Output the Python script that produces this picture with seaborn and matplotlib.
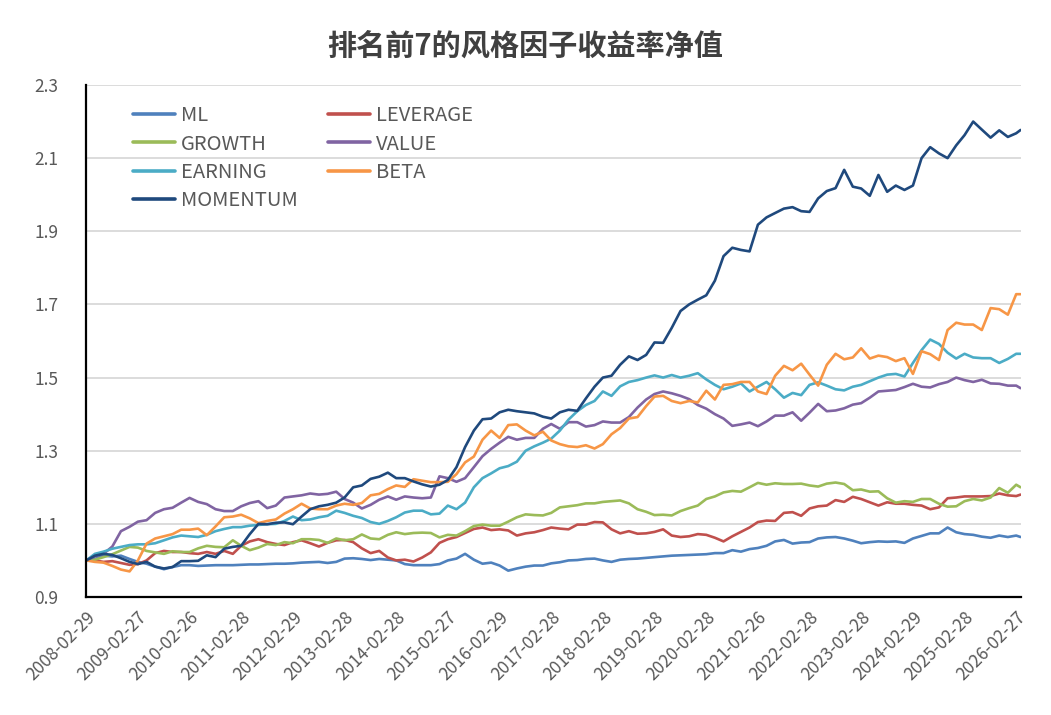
import pandas as pd
import numpy as np
import matplotlib
matplotlib.use("Agg")
import matplotlib.pyplot as plt
import seaborn as sns

# ---------------- data (net value, every 2 months from 2008-02 to 2026-02, plus 2026-03) ----------------
dates = list(pd.date_range("2008-02-29", "2026-02-28", freq="2ME")) + [pd.Timestamp("2026-03-31")]

ML = [1.000, 1.004, 1.013, 1.011, 1.013, 1.004, 0.996, 0.991, 0.983, 0.976,
      0.982, 0.987, 0.987, 0.985, 0.986, 0.987, 0.987, 0.987, 0.988, 0.989,
      0.989, 0.990, 0.991, 0.991, 0.992, 0.994, 0.995, 0.996, 0.993, 0.996,
      1.005, 1.006, 1.004, 1.001, 1.004, 1.002, 1.000, 0.990, 0.987, 0.987,
      0.987, 0.990, 1.000, 1.005, 1.018, 1.002, 0.991, 0.994, 0.986, 0.972,
      0.978, 0.983, 0.986, 0.986, 0.992, 0.995, 1.000, 1.001, 1.004, 1.005,
      1.000, 0.996, 1.002, 1.004, 1.005, 1.007, 1.009, 1.011, 1.013, 1.014,
      1.015, 1.016, 1.017, 1.020, 1.020, 1.028, 1.024, 1.031, 1.034, 1.040,
      1.052, 1.056, 1.046, 1.049, 1.050, 1.060, 1.063, 1.064, 1.060, 1.054,
      1.047, 1.050, 1.052, 1.051, 1.052, 1.048, 1.060, 1.067, 1.074, 1.074,
      1.090, 1.077, 1.072, 1.070, 1.065, 1.062, 1.068, 1.064, 1.068, 1.064]

LEVERAGE = [1.000, 1.000, 0.996, 0.998, 0.993, 0.988, 0.990, 1.000, 1.020, 1.026,
            1.023, 1.023, 1.020, 1.018, 1.023, 1.018, 1.026, 1.018, 1.040, 1.052,
            1.058, 1.050, 1.045, 1.042, 1.050, 1.055, 1.047, 1.038, 1.048, 1.055,
            1.056, 1.050, 1.033, 1.020, 1.026, 1.008, 1.000, 1.002, 0.997, 1.008,
            1.022, 1.048, 1.058, 1.064, 1.075, 1.086, 1.090, 1.083, 1.085, 1.082,
            1.068, 1.074, 1.077, 1.083, 1.090, 1.087, 1.085, 1.098, 1.098, 1.105,
            1.104, 1.085, 1.074, 1.080, 1.073, 1.074, 1.078, 1.085, 1.068, 1.064,
            1.066, 1.072, 1.070, 1.062, 1.052, 1.066, 1.078, 1.090, 1.105, 1.109,
            1.108, 1.130, 1.132, 1.122, 1.142, 1.148, 1.150, 1.165, 1.160, 1.174,
            1.168, 1.159, 1.150, 1.159, 1.155, 1.155, 1.152, 1.150, 1.140, 1.145,
            1.170, 1.172, 1.175, 1.175, 1.175, 1.176, 1.183, 1.178, 1.176, 1.180]

GROWTH = [1.000, 1.002, 1.009, 1.017, 1.027, 1.037, 1.035, 1.026, 1.022, 1.018,
          1.025, 1.023, 1.023, 1.033, 1.040, 1.037, 1.036, 1.055, 1.040, 1.028,
          1.035, 1.045, 1.042, 1.050, 1.047, 1.058, 1.058, 1.056, 1.048, 1.060,
          1.055, 1.058, 1.071, 1.060, 1.058, 1.070, 1.077, 1.072, 1.075, 1.076,
          1.075, 1.063, 1.070, 1.068, 1.080, 1.094, 1.098, 1.095, 1.095, 1.106,
          1.118, 1.126, 1.124, 1.123, 1.130, 1.145, 1.148, 1.151, 1.156, 1.156,
          1.160, 1.162, 1.164, 1.156, 1.140, 1.133, 1.124, 1.125, 1.123, 1.135,
          1.143, 1.150, 1.168, 1.175, 1.186, 1.190, 1.188, 1.200, 1.212, 1.207,
          1.211, 1.209, 1.209, 1.210, 1.205, 1.202, 1.210, 1.213, 1.209, 1.192,
          1.194, 1.188, 1.189, 1.170, 1.158, 1.162, 1.160, 1.168, 1.168, 1.155,
          1.147, 1.148, 1.162, 1.168, 1.164, 1.172, 1.198, 1.185, 1.207, 1.200]

VALUE = [1.000, 1.011, 1.018, 1.038, 1.080, 1.092, 1.106, 1.110, 1.130, 1.140,
         1.144, 1.158, 1.171, 1.160, 1.154, 1.140, 1.135, 1.135, 1.148, 1.157,
         1.162, 1.143, 1.150, 1.172, 1.175, 1.178, 1.183, 1.180, 1.182, 1.188,
         1.168, 1.158, 1.142, 1.152, 1.166, 1.175, 1.166, 1.175, 1.172, 1.170,
         1.172, 1.230, 1.225, 1.215, 1.225, 1.255, 1.285, 1.305, 1.322, 1.338,
         1.330, 1.335, 1.335, 1.360, 1.373, 1.360, 1.378, 1.378, 1.366, 1.370,
         1.380, 1.377, 1.377, 1.392, 1.418, 1.440, 1.455, 1.462, 1.457, 1.450,
         1.441, 1.425, 1.415, 1.400, 1.388, 1.368, 1.372, 1.377, 1.367, 1.380,
         1.396, 1.396, 1.405, 1.382, 1.404, 1.428, 1.408, 1.410, 1.416, 1.426,
         1.430, 1.445, 1.462, 1.464, 1.466, 1.474, 1.483, 1.475, 1.473, 1.482,
         1.488, 1.500, 1.493, 1.488, 1.494, 1.484, 1.483, 1.478, 1.478, 1.471]

EARNING = [1.000, 1.018, 1.024, 1.032, 1.037, 1.042, 1.044, 1.044, 1.047, 1.055,
           1.063, 1.068, 1.066, 1.064, 1.070, 1.080, 1.086, 1.091, 1.091, 1.095,
           1.097, 1.099, 1.100, 1.108, 1.120, 1.110, 1.112, 1.118, 1.122, 1.136,
           1.130, 1.122, 1.116, 1.105, 1.100, 1.108, 1.118, 1.131, 1.136, 1.136,
           1.126, 1.128, 1.150, 1.140, 1.158, 1.200, 1.225, 1.238, 1.252, 1.258,
           1.270, 1.300, 1.312, 1.322, 1.333, 1.355, 1.385, 1.408, 1.425, 1.436,
           1.462, 1.450, 1.476, 1.488, 1.493, 1.500, 1.506, 1.500, 1.507, 1.500,
           1.505, 1.512, 1.495, 1.480, 1.468, 1.475, 1.484, 1.462, 1.475, 1.488,
           1.468, 1.445, 1.458, 1.452, 1.480, 1.487, 1.478, 1.468, 1.465, 1.475,
           1.480, 1.490, 1.500, 1.508, 1.510, 1.503, 1.540, 1.575, 1.604, 1.592,
           1.568, 1.552, 1.565, 1.555, 1.553, 1.553, 1.540, 1.551, 1.565, 1.565]

BETA = [1.000, 0.996, 0.994, 0.985, 0.975, 0.970, 1.000, 1.046, 1.060, 1.066,
        1.072, 1.084, 1.084, 1.087, 1.069, 1.093, 1.118, 1.120, 1.125, 1.115,
        1.102, 1.108, 1.112, 1.128, 1.140, 1.155, 1.142, 1.140, 1.140, 1.150,
        1.155, 1.152, 1.157, 1.178, 1.182, 1.195, 1.205, 1.201, 1.222, 1.218,
        1.214, 1.214, 1.215, 1.236, 1.268, 1.284, 1.330, 1.355, 1.335, 1.370,
        1.372, 1.355, 1.342, 1.352, 1.328, 1.318, 1.312, 1.310, 1.315, 1.306,
        1.318, 1.345, 1.362, 1.388, 1.392, 1.422, 1.448, 1.450, 1.436, 1.430,
        1.436, 1.432, 1.464, 1.440, 1.480, 1.482, 1.488, 1.488, 1.462, 1.455,
        1.505, 1.532, 1.520, 1.538, 1.508, 1.478, 1.535, 1.565, 1.550, 1.555,
        1.580, 1.552, 1.560, 1.556, 1.545, 1.553, 1.510, 1.572, 1.564, 1.548,
        1.630, 1.650, 1.645, 1.645, 1.630, 1.690, 1.687, 1.672, 1.728, 1.728]

MOMENTUM = [1.000, 1.013, 1.018, 1.015, 1.006, 0.996, 0.990, 0.996, 0.983, 0.978,
            0.982, 0.998, 0.998, 0.999, 1.014, 1.009, 1.032, 1.037, 1.040, 1.072,
            1.100, 1.099, 1.103, 1.104, 1.099, 1.120, 1.140, 1.148, 1.152, 1.158,
            1.172, 1.200, 1.205, 1.223, 1.229, 1.240, 1.225, 1.225, 1.216, 1.208,
            1.202, 1.207, 1.220, 1.255, 1.310, 1.355, 1.386, 1.388, 1.405, 1.412,
            1.408, 1.405, 1.402, 1.393, 1.388, 1.405, 1.412, 1.409, 1.443, 1.475,
            1.500, 1.505, 1.535, 1.558, 1.548, 1.562, 1.596, 1.595, 1.636, 1.682,
            1.700, 1.713, 1.725, 1.765, 1.832, 1.855, 1.849, 1.845, 1.918, 1.938,
            1.950, 1.962, 1.966, 1.955, 1.953, 1.990, 2.010, 2.018, 2.068, 2.022,
            2.017, 1.997, 2.054, 2.008, 2.025, 2.013, 2.025, 2.100, 2.130, 2.113,
            2.100, 2.135, 2.163, 2.200, 2.178, 2.156, 2.176, 2.158, 2.168, 2.177]

factors = ["ML", "LEVERAGE", "GROWTH", "VALUE", "EARNING", "BETA", "MOMENTUM"]
colors = ["#4F81BD", "#C0504D", "#9BBB59", "#8064A2", "#4BACC6", "#F79646", "#1F497D"]

tick_labels = ["2008-02-29", "2009-02-27", "2010-02-26", "2011-02-28", "2012-02-29",
               "2013-02-28", "2014-02-28", "2015-02-27", "2016-02-29", "2017-02-28",
               "2018-02-28", "2019-02-28", "2020-02-28", "2021-02-26", "2022-02-28",
               "2023-02-28", "2024-02-29", "2025-02-28", "2026-02-27"]
y_ticks = [0.9, 1.1, 1.3, 1.5, 1.7, 1.9, 2.1, 2.3]

title = "排名前7的风格因子收益率净值"

# ---------------- build long table ----------------
series = {"ML": ML, "LEVERAGE": LEVERAGE, "GROWTH": GROWTH, "VALUE": VALUE,
          "EARNING": EARNING, "BETA": BETA, "MOMENTUM": MOMENTUM}
df = pd.concat([pd.DataFrame({"date": dates, "value": v, "factor": k}) for k, v in series.items()],
               ignore_index=True)

# ---------------- style ----------------
sns.set_style("white")
plt.rcParams["font.family"] = ["Noto Sans CJK SC", "DejaVu Sans"]
grey = "#595959"

fig = plt.figure(figsize=(10.51, 7.15), dpi=100)
ax = fig.add_axes([86 / 1051, 1 - 597 / 715, (1021 - 86) / 1051, (597 - 85) / 715])

sns.lineplot(data=df, x="date", y="value", hue="factor", hue_order=factors,
             palette=dict(zip(factors, colors)), linewidth=1.9, ax=ax, legend=False)

ax.set_ylim(0.9, 2.3)
ax.set_yticks(y_ticks)
ax.set_yticklabels([f"{t:.1f}" for t in y_ticks])
ax.set_xlim(pd.Timestamp("2008-02-27"), pd.Timestamp("2026-04-03"))
ax.set_xticks(pd.to_datetime(tick_labels))
ax.set_xticklabels(tick_labels, rotation=45, ha="right", va="top", rotation_mode="anchor")

ax.grid(axis="y", color="#D9D9D9", linewidth=1.3)
ax.grid(axis="x", visible=False)
ax.set_axisbelow(True)
for s in ["top", "right"]:
    ax.spines[s].set_visible(False)
for s in ["left", "bottom"]:
    ax.spines[s].set_color("black")
    ax.spines[s].set_linewidth(1.6)

ax.tick_params(axis="y", length=0, pad=20, labelsize=12.5, labelcolor=grey)
ax.tick_params(axis="x", direction="in", length=5, width=1.4, color="black",
               pad=8, labelsize=12.5, labelcolor=grey)
ax.set_xlabel("")
ax.set_ylabel("")

# legend: 2 columns, ML/GROWTH/EARNING/MOMENTUM in first, LEVERAGE/VALUE/BETA in second
order = ["ML", "GROWTH", "EARNING", "MOMENTUM", "LEVERAGE", "VALUE", "BETA"]
cmap = dict(zip(factors, colors))
handles = [plt.Line2D([], [], color=cmap[f], linewidth=2.6) for f in order]
leg = ax.legend(handles, order, ncol=2, loc="upper left", bbox_to_anchor=(0.050, 0.960),
                frameon=False, fontsize=14.5, handlelength=2.1, handletextpad=0.3,
                columnspacing=1.5, labelspacing=0.35, borderpad=0, borderaxespad=0)
for t in leg.get_texts():
    t.set_color(grey)

fig.suptitle(title, x=0.5, y=1 - 46 / 715, va="center", fontsize=21, fontweight="bold",
             color="#404040")

fig.savefig("out.png", dpi=100)
